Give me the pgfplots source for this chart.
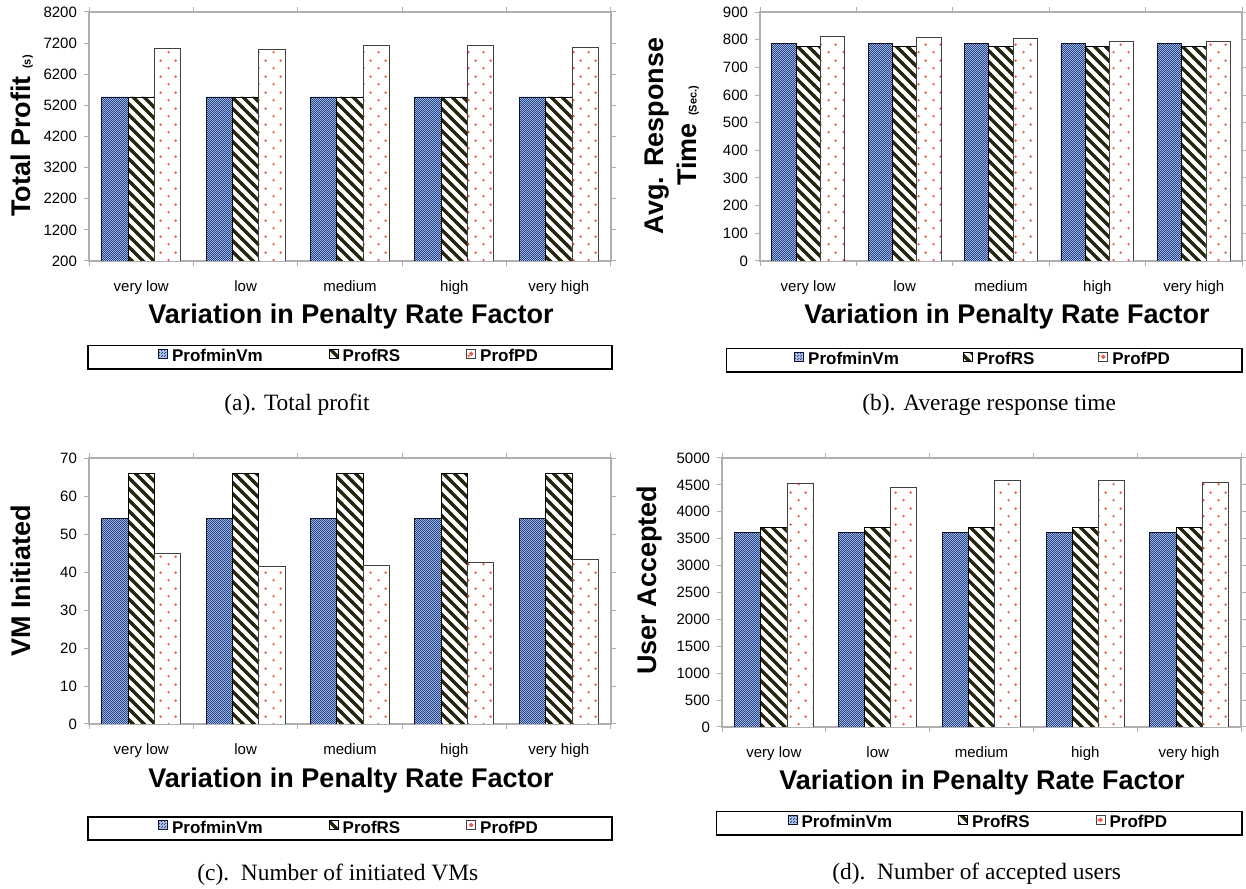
\documentclass[border=0pt]{standalone}
\usepackage{fontspec}
\setmainfont{Liberation Sans}
\newfontfamily\capfont{Liberation Serif}
\usepackage{pgfplots}
\usepackage{pgfplotstable}
\pgfplotsset{compat=1.18}
\usetikzlibrary{patterns}

\definecolor{minvmLight}{RGB}{178,198,232}
\definecolor{minvmDark}{RGB}{38,68,140}
\definecolor{stripeDark}{RGB}{38,38,14}
\definecolor{dotRed}{RGB}{238,92,72}
\definecolor{frameGray}{RGB}{175,175,175}

% fine checkerboard
\pgfdeclarepatternformonly{checkerfine}{\pgfqpoint{0pt}{0pt}}{\pgfqpoint{1.2pt}{1.2pt}}{\pgfqpoint{1.2pt}{1.2pt}}{%
  \pgfpathrectangle{\pgfqpoint{0pt}{0pt}}{\pgfqpoint{0.6pt}{0.6pt}}%
  \pgfpathrectangle{\pgfqpoint{0.6pt}{0.6pt}}{\pgfqpoint{0.6pt}{0.6pt}}%
  \pgfusepath{fill}}
% wide diagonal stripes, top-left to bottom-right
\pgfdeclarepatternformonly{widestripes}{\pgfqpoint{-1pt}{-1pt}}{\pgfqpoint{6.5pt}{6.5pt}}{\pgfqpoint{5.5pt}{5.5pt}}{%
  \pgfsetlinewidth{1.7pt}%
  \pgfpathmoveto{\pgfqpoint{-0.5pt}{6pt}}%
  \pgfpathlineto{\pgfqpoint{6pt}{-0.5pt}}%
  \pgfusepath{stroke}}
% sparse staggered dots
\pgfdeclarepatternformonly{sparsedots}{\pgfqpoint{0pt}{0pt}}{\pgfqpoint{7.5pt}{8pt}}{\pgfqpoint{7.5pt}{8pt}}{%
  \pgfpathcircle{\pgfqpoint{1.9pt}{2pt}}{0.7pt}%
  \pgfpathcircle{\pgfqpoint{5.65pt}{6pt}}{0.7pt}%
  \pgfusepath{fill}}

\pgfplotstableread{
x minvm rs pd
0 5470 5470 7035
1 5470 5470 6995
2 5470 5470 7120
3 5470 5470 7122
4 5470 5470 7070
}\profit

\pgfplotstableread{
x minvm rs pd
0 785 777 811
1 785 777 807
2 785 777 803
3 785 777 795
4 785 777 794
}\resp

\pgfplotstableread{
x minvm rs pd
0 54 66 44.9
1 54 66 41.4
2 54 66 41.6
3 54 66 42.5
4 54 66 43.3
}\vms

\pgfplotstableread{
x minvm rs pd
0 3620 3712 4530
1 3620 3712 4450
2 3620 3712 4580
3 3620 3712 4582
4 3620 3712 4545
}\users

\pgfplotsset{
  barimg/.style={legend image code/.code={%
      \draw[##1,/tikz/.cd,yshift=-0.5pt] (0pt,0pt) rectangle (4.5pt,4.5pt);}},
  dotimg/.style={legend image code/.code={%
      \draw[black!75, line width=0.45pt, fill=white, yshift=-0.5pt] (0pt,0pt) rectangle (4.5pt,4.5pt);
      \fill[dotRed, yshift=-0.5pt] (2.25pt,2.25pt) circle (0.75pt);}},
  minvm/.style={draw=black!70!minvmDark, line width=0.45pt, fill=minvmLight,
    postaction={pattern=checkerfine, pattern color=minvmDark}, bar shift=-0.252, barimg},
  rs/.style={draw=black, line width=0.45pt, fill=white,
    postaction={pattern=widestripes, pattern color=stripeDark}, bar shift=0, barimg},
  pd/.style={draw=black!75, line width=0.45pt, fill=white,
    postaction={pattern=sparsedots, pattern color=dotRed}, bar shift=0.252, dotimg},
  panel/.style={
    scale only axis,
    anchor=south west,
    ybar, bar width=0.252,
    xmin=-0.5, xmax=4.5,
    xtick={-0.5,0.5,1.5,2.5,3.5,4.5},
    xticklabels={},
    extra x ticks={0,1,2,3,4},
    extra x tick labels={very low,low,medium,high,very high},
    extra x tick style={tick style={draw=none}},
    xticklabel style={yshift=-4pt},
    tick align=outside,
    major tick length=2.5pt,
    tick style={draw=frameGray, line width=0.5pt},
    axis line style={draw=frameGray, line width=0.6pt},
    ticklabel style={font=\fontsize{7.5}{9}\selectfont},
    /pgf/number format/assume math mode=true,
    /pgf/number format/1000 sep={},
    legend columns=3,
    legend cell align=left,
    legend style={draw=black, line width=0.75pt, anchor=north,
      inner ysep=0pt, inner xsep=35pt,
      font=\bfseries\fontsize{8.5}{10}\selectfont,
      /tikz/every even column/.append style={column sep=31pt}},
  },
}

\begin{document}
\begin{tikzpicture}
\path[use as bounding box] (0,0) rectangle (623pt,444pt);

% (a) total profit
\begin{axis}[panel, at={(44.5pt,313.5pt)}, width=261pt, height=124.5pt,
  ymin=200, ymax=8200, ytick={200,1200,...,8200},
  legend style={at={(0.5,-0.337)}}]
\addplot[minvm] table[x=x,y=minvm] {\profit};
\addplot[rs] table[x=x,y=rs] {\profit};
\addplot[pd] table[x=x,y=pd] {\profit};
\legend{ProfminVm,ProfRS,ProfPD}
\end{axis}

% (b) average response time
\begin{axis}[panel, at={(380pt,313.5pt)}, width=241pt, height=124.5pt,
  ymin=0, ymax=900, ytick={0,100,...,900},
  legend style={at={(0.465,-0.349)}, inner xsep=34pt,
    /tikz/every even column/.append style={column sep=30pt}}]
\addplot[minvm] table[x=x,y=minvm] {\resp};
\addplot[rs] table[x=x,y=rs] {\resp};
\addplot[pd] table[x=x,y=pd] {\resp};
\legend{ProfminVm,ProfRS,ProfPD}
\end{axis}

% (c) initiated VMs
\begin{axis}[panel, at={(44.5pt,82pt)}, width=261pt, height=133pt,
  ymin=0, ymax=70, ytick={0,10,...,70},
  legend style={at={(0.5,-0.346)}}]
\addplot[minvm] table[x=x,y=minvm] {\vms};
\addplot[rs] table[x=x,y=rs] {\vms};
\addplot[pd] table[x=x,y=pd] {\vms};
\legend{ProfminVm,ProfRS,ProfPD}
\end{axis}

% (d) accepted users
\begin{axis}[panel, at={(361pt,80.5pt)}, width=259.5pt, height=134.5pt,
  ymin=0, ymax=5000, ytick={0,500,...,5000},
  legend style={at={(0.496,-0.312)}, inner xsep=35.5pt}]
\addplot[minvm] table[x=x,y=minvm] {\users};
\addplot[rs] table[x=x,y=rs] {\users};
\addplot[pd] table[x=x,y=pd] {\users};
\legend{ProfminVm,ProfRS,ProfPD}
\end{axis}

% axis titles
\begin{scope}[every node/.style={font=\bfseries\fontsize{13.5}{16.5}\selectfont, inner sep=0pt}]
  \node[rotate=90] at (11pt,376pt) {Total Profit {\fontsize{5.5}{6}\selectfont(s)}};
  \node[rotate=90, align=center] at (336pt,376pt) {Avg. Response\\Time {\fontsize{5.5}{6}\selectfont(Sec.)}};
  \node[rotate=90] at (10.5pt,153.5pt) {VM Initiated};
  \node[rotate=90] at (325pt,154pt) {User Accepted};
  \node at (175.5pt,285.5pt) {Variation in Penalty Rate Factor};
  \node at (503.5pt,285.5pt) {Variation in Penalty Rate Factor};
  \node at (175.5pt,53.5pt) {Variation in Penalty Rate Factor};
  \node at (491pt,52.5pt) {Variation in Penalty Rate Factor};
\end{scope}

% sub-figure captions
\begin{scope}[every node/.style={font=\capfont\fontsize{11.7}{14}\selectfont, inner sep=0pt, anchor=west}]
  \node at (112pt,241.5pt) {(a). Total profit};
  \node at (431pt,241.5pt) {(b). Average response time};
  \node at (98.5pt,6.5pt) {(c).\ \ Number of initiated VMs};
  \node at (416pt,7pt) {(d).\ \ Number of accepted users};
\end{scope}
\end{tikzpicture}
\end{document}
